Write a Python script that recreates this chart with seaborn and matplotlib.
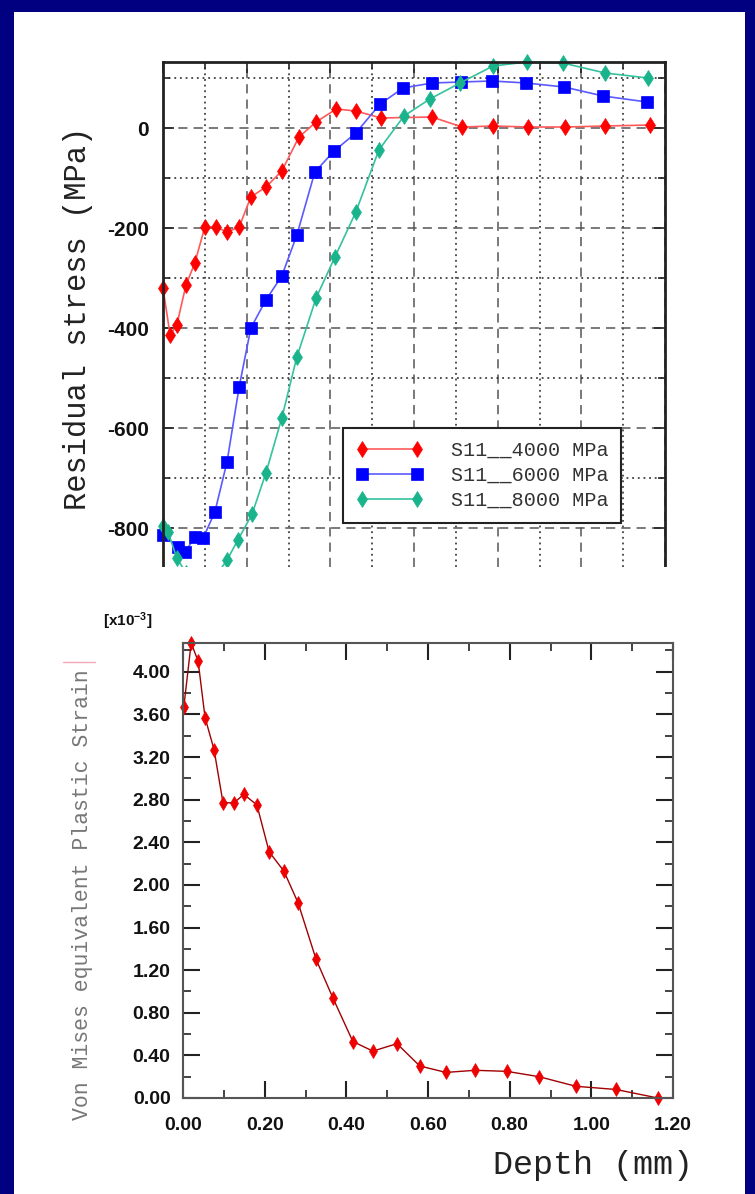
import matplotlib
matplotlib.use('Agg')
import matplotlib.pyplot as plt
import numpy as np
import pandas as pd
import seaborn as sns
from matplotlib.ticker import MultipleLocator, FormatStrFormatter
from matplotlib.patches import Rectangle
from matplotlib.lines import Line2D

W, H = 755, 1194

# top chart: residual stress (MPa) against depth (mm), three loads
labels = ['S11__4000 MPa', 'S11__6000 MPa', 'S11__8000 MPa']
depth_4000 = [0.0, 0.017, 0.033, 0.055, 0.076, 0.100, 0.127, 0.153, 0.182, 0.210, 0.246, 0.284,
              0.325, 0.366, 0.414, 0.461, 0.521, 0.643, 0.715, 0.789, 0.873, 0.961, 1.057, 1.164]
stress_4000 = [-320, -414, -394, -314, -270, -198, -198, -208, -198, -138, -118, -86,
               -18, 12, 38, 34, 20, 22, 2, 4, 2, 2, 4, 6]
depth_6000 = [0.0, 0.036, 0.053, 0.076, 0.096, 0.124, 0.153, 0.182, 0.210, 0.246, 0.284, 0.320,
              0.363, 0.409, 0.461, 0.519, 0.574, 0.643, 0.712, 0.787, 0.868, 0.959, 1.052, 1.157]
stress_6000 = [-814, -838, -848, -818, -820, -768, -668, -518, -400, -344, -296, -214,
               -88, -46, -10, 48, 80, 90, 92, 94, 90, 82, 64, 52]
depth_8000 = [0.0, 0.012, 0.033, 0.055, 0.076, 0.100, 0.127, 0.153, 0.179, 0.213, 0.246, 0.284,
              0.320, 0.366, 0.411, 0.461, 0.516, 0.576, 0.638, 0.710, 0.789, 0.870, 0.956, 1.057, 1.159]
stress_8000 = [-796, -808, -860, -890, -905, -910, -895, -864, -824, -772, -690, -580,
               -458, -340, -258, -168, -44, 24, 58, 90, 124, 132, 130, 110, 100]

# bottom chart: Von Mises equivalent plastic strain (x10^-3)
depth_strain = [0.002, 0.020, 0.037, 0.054, 0.076, 0.098, 0.125, 0.149, 0.181, 0.211, 0.247, 0.282,
                0.326, 0.367, 0.416, 0.465, 0.524, 0.580, 0.644, 0.715, 0.793, 0.872, 0.962, 1.060, 1.163]
strain = [3.67, 4.27, 4.10, 3.57, 3.27, 2.77, 2.77, 2.85, 2.75, 2.31, 2.13, 1.83,
          1.30, 0.94, 0.53, 0.44, 0.51, 0.30, 0.24, 0.26, 0.25, 0.20, 0.11, 0.08, 0.00]

sns.set_theme(style='white')
plt.rcParams['font.family'] = ['Liberation Sans', 'DejaVu Sans']
plt.rcParams['axes.unicode_minus'] = False
plt.rcParams['mathtext.fontset'] = 'custom'
plt.rcParams['mathtext.rm'] = 'Liberation Sans:bold'
plt.rcParams['mathtext.it'] = 'Liberation Sans:bold'

fig = plt.figure(figsize=(W / 100, H / 100), dpi=100, facecolor='#000080')
# white slide panel
fig.add_artist(Rectangle((14 / W, 0), (745 - 14) / W, 1 - 12 / H, transform=fig.transFigure,
                         facecolor='white', edgecolor='none', zorder=-2))

# ---------------- top chart ----------------
ax1 = fig.add_axes([163 / W, 1 - 567 / H, (665 - 163) / W, (567 - 62) / H], zorder=0)
top_df = pd.concat([
    pd.DataFrame({'depth': depth_4000, 'stress': stress_4000, 'series': labels[0]}),
    pd.DataFrame({'depth': depth_6000, 'stress': stress_6000, 'series': labels[1]}),
    pd.DataFrame({'depth': depth_8000, 'stress': stress_8000, 'series': labels[2]}),
])
mark_colors = ['#ff0000', '#0000ff', '#19b48c']
line_colors = ['#ff5a5a', '#5a5aff', '#35c29e']
sns.lineplot(data=top_df, x='depth', y='stress', hue='series', style='series',
             palette=dict(zip(labels, mark_colors)), markers=dict(zip(labels, ['d', 's', 'd'])),
             dashes=False, estimator=None, sort=False, legend=False, ax=ax1, lw=1.2)
for line, mc, lc, ms in zip(ax1.lines, mark_colors, line_colors, [8, 9, 8]):
    line.set_color(lc)
    line.set_markerfacecolor(mc)
    line.set_markeredgecolor(mc)
    line.set_markeredgewidth(0.5)
    line.set_markersize(ms)
    line.set_clip_on(False)

ax1.set_xlim(0, 1.2)
ax1.set_ylim(-878, 132)
ax1.xaxis.set_major_locator(MultipleLocator(0.2))
ax1.xaxis.set_minor_locator(MultipleLocator(0.1))
ax1.yaxis.set_major_locator(MultipleLocator(200))
ax1.yaxis.set_minor_locator(MultipleLocator(100))
ax1.yaxis.set_major_formatter(FormatStrFormatter('%d'))
ax1.grid(which='major', color='#555555', ls=(0, (6, 4)), lw=1.1)
ax1.grid(which='minor', color='#222222', ls=(0, (1.2, 2.5)), lw=1.1)
ax1.set_axisbelow(True)
for side, sp in ax1.spines.items():
    sp.set_linewidth(2)
    sp.set_color('#222222')
ax1.spines['bottom'].set_visible(False)
ax1.tick_params(which='both', direction='in', top=True, right=True, bottom=False, left=True,
                labelbottom=False, labelleft=True, color='#222222', width=1.2)
ax1.tick_params(which='major', length=8, labelsize=15, pad=10, labelcolor='#111111')
ax1.tick_params(which='minor', length=5)
plt.setp(ax1.get_yticklabels(), fontweight='bold')
ax1.set_xlabel('')
ax1.set_ylabel('Residual stress (MPa)', family='Liberation Mono', fontsize=22,
               color='#222222', va='center')
ax1.yaxis.set_label_coords(-0.169, 0.493)

leg = ax1.legend(handles=ax1.lines[:3], labels=labels, loc='upper left',
                 bbox_to_anchor=((343 - 163) / 502, (567 - 428) / 505), borderaxespad=0,
                 numpoints=2, handlelength=3.3, handletextpad=1.4, labelspacing=0.3,
                 borderpad=0.65, frameon=True, fancybox=False, framealpha=1,
                 prop={'family': 'Liberation Mono', 'size': 14.5})
leg.get_frame().set_edgecolor('#222222')
leg.get_frame().set_linewidth(1.5)
for t in leg.get_texts():
    t.set_color('#333333')

# cut the top chart off where the second picture starts
fig.add_artist(Rectangle((14 / W, 0), (745 - 14) / W, 1 - 567 / H, transform=fig.transFigure,
                         facecolor='white', edgecolor='none', zorder=0.5))

# ---------------- bottom chart ----------------
ax2 = fig.add_axes([183 / W, 1 - 1098 / H, 490 / W, 455 / H], zorder=1)
sns.lineplot(x=depth_strain, y=strain, ax=ax2, color='#a00000', lw=1.0, marker='d',
             markersize=7.5, markerfacecolor='#ee0000', markeredgecolor='#ee0000',
             markeredgewidth=0.5, estimator=None, sort=False)
for line in ax2.lines:
    line.set_clip_on(False)
ax2.set_xlim(0, 1.2)
ax2.set_ylim(0, 4.27)
ax2.xaxis.set_major_locator(MultipleLocator(0.2))
ax2.xaxis.set_minor_locator(MultipleLocator(0.1))
ax2.yaxis.set_major_locator(MultipleLocator(0.4))
ax2.yaxis.set_minor_locator(MultipleLocator(0.2))
ax2.xaxis.set_major_formatter(FormatStrFormatter('%.2f'))
ax2.yaxis.set_major_formatter(FormatStrFormatter('%.2f'))
ax2.grid(False)
for sp in ax2.spines.values():
    sp.set_linewidth(1.5)
    sp.set_color('#555555')
ax2.tick_params(which='both', direction='in', top=True, right=True, bottom=True, left=True,
                color='#222222')
ax2.tick_params(which='major', length=12, width=1.5, labelsize=14, pad=9, labelcolor='#111111')
ax2.tick_params(axis='x', which='major', pad=14)
ax2.tick_params(which='minor', length=6, width=1.2)
plt.setp(ax2.get_xticklabels() + ax2.get_yticklabels(), fontweight='bold')
ax2.set_xlabel('Depth (mm)', family='Liberation Mono', fontsize=24, color='#222222',
               ha='right', va='center')
ax2.xaxis.set_label_coords(1.041, -0.149)
ax2.set_ylabel('Von Mises equivalent Plastic Strain', family='Liberation Mono', fontsize=15.5,
               color='#777777', va='center')
ax2.yaxis.set_label_coords(-0.206, 0.446)

fig.text(103 / W, 1 - 621 / H, r'[x10$^{-3}$]', fontsize=11, fontweight='bold',
         color='#111111', va='center', ha='left')
fig.add_artist(Line2D([63 / W, 95 / W], [1 - 662 / H, 1 - 662 / H], color='#f2a6b6', lw=1,
                      transform=fig.transFigure))

fig.savefig('out.png', dpi=100, facecolor=fig.get_facecolor())
